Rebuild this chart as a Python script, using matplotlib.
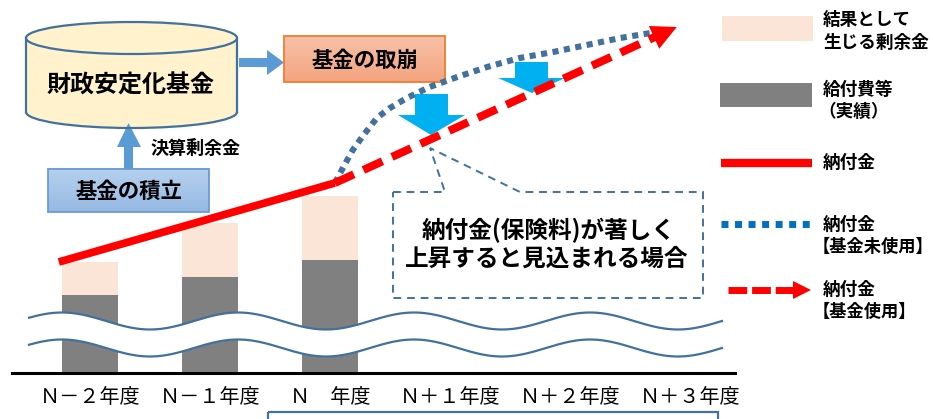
import numpy as np
import matplotlib
matplotlib.use('Agg')
import matplotlib.pyplot as plt
from matplotlib.patches import Rectangle, Ellipse, Arc, Polygon
from matplotlib.colors import to_rgb

plt.rcParams['font.family'] = ['Noto Sans CJK JP', 'DejaVu Sans']

# ---------------- data ----------------
categories = ['Ｎ－２年度', 'Ｎ－１年度', 'Ｎ　年度', 'Ｎ＋１年度', 'Ｎ＋２年度', 'Ｎ＋３年度']
benefit_costs = [78, 96, 113]          # 給付費等（実績）
surplus = [33, 54, 64]                 # 結果として生じる剰余金
contrib_x = [-0.26, 2.04]              # 納付金
contrib_y = [111, 190]
fund_used_x = [2.04, 4.89]             # 納付金【基金使用】
fund_used_y = [190, 346]
no_fund_x = [2.04, 2.13, 2.19, 2.28, 2.39, 2.50, 2.64, 2.83, 3.06, 3.31, 3.58, 3.86, 4.14, 4.42, 4.67]
no_fund_y = [190, 210, 223, 238, 255, 265, 275, 286, 296, 306, 315, 321, 328, 335, 340]

# ---------------- figure ----------------
W, H = 933, 419
fig = plt.figure(figsize=(W / 100, H / 100), dpi=100)
bg = fig.add_axes([0, 0, 1, 1])
bg.set_xlim(0, W)
bg.set_ylim(H, 0)
bg.axis('off')

EDGE = '#41719C'
JP = ['Noto Sans CJK JP', 'DejaVu Sans']


def gradient_box(x0, y0, x1, y1, top, bottom, edge, lw=1.3):
    c0 = np.array(to_rgb(top))
    c1 = np.array(to_rgb(bottom))
    t = np.linspace(0, 1, 64)[:, None]
    img = (c0 * (1 - t) + c1 * t)[:, None, :]
    bg.imshow(img, extent=(x0, x1, y1, y0), origin='upper', aspect='auto', zorder=2)
    bg.add_patch(Rectangle((x0, y0), x1 - x0, y1 - y0, fill=False, edgecolor=edge, lw=lw, zorder=3))


# cylinder 財政安定化基金
cx0, cx1, ctop, cbot, eh = 26, 237, 38, 112, 32
ccx = (cx0 + cx1) / 2
cw = cx1 - cx0
bg.add_patch(Ellipse((ccx, cbot), cw, eh, facecolor='#FFF2CC', edgecolor='none', zorder=2))
bg.add_patch(Rectangle((cx0, ctop), cw, cbot - ctop, facecolor='#FFF2CC', edgecolor='none', zorder=2))
bg.add_patch(Arc((ccx, cbot), cw, eh, theta1=0, theta2=180, color=EDGE, lw=1.6, zorder=3))
bg.plot([cx0, cx0], [ctop, cbot], color=EDGE, lw=1.6, zorder=3)
bg.plot([cx1, cx1], [ctop, cbot], color=EDGE, lw=1.6, zorder=3)
bg.add_patch(Ellipse((ccx, ctop), cw, eh, facecolor='#FFF2CC', edgecolor=EDGE, lw=1.6, zorder=3))
bg.text(131, 86, '財政安定化基金', fontsize=17.3, fontweight='bold', ha='center', va='center',
        family=JP, zorder=4)

# boxes
gradient_box(284, 36, 445, 82, '#F8C1A8', '#F4A47F', '#ED7D31')
bg.text(364.5, 60, '基金の取崩', fontsize=15.4, fontweight='bold', ha='center', va='center', family=JP, zorder=4)
gradient_box(48, 169, 209, 212, '#B7D1EE', '#95B9E3', '#6A9BD3')
bg.text(128.5, 191, '基金の積立', fontsize=15.4, fontweight='bold', ha='center', va='center', family=JP, zorder=4)
bg.text(150, 148, '決算剰余金', fontsize=13, fontweight='bold', ha='left', va='center', family=JP, zorder=4)

ARW = '#5B9BD5'
# right arrow cylinder -> 取崩
bg.add_patch(Polygon([(239, 58), (267, 58), (267, 50), (284, 62.5), (267, 75), (267, 67), (239, 67)],
                     closed=True, facecolor=ARW, edgecolor='none', zorder=2))
# up arrow 積立 -> cylinder
bg.add_patch(Polygon([(124, 169), (124, 147), (117, 147), (128.5, 123), (141, 147), (133, 147), (133, 169)],
                     closed=True, facecolor=ARW, edgecolor='none', zorder=2))

# cyan block arrows
CY = '#00B0F0'
bg.add_patch(Polygon([(415, 94), (448, 94), (448, 115), (465, 115), (431, 135), (398, 115), (415, 115)],
                     closed=True, facecolor=CY, edgecolor='none', zorder=2))
bg.add_patch(Polygon([(515, 62), (548, 62), (548, 78), (565, 78), (532, 93), (498, 78), (515, 78)],
                     closed=True, facecolor=CY, edgecolor='none', zorder=2))

# callout
bg.add_patch(Polygon([(393, 192), (445, 192), (430, 148), (520, 192), (703, 192), (703, 298), (393, 298)],
                     closed=True, facecolor='white', edgecolor=EDGE, lw=1.4, linestyle=(0, (4, 3)), zorder=1))
bg.text(549, 230, '納付金(保険料)が著しく', fontsize=17, fontweight='bold', ha='center', va='center',
        family=JP, zorder=4)
bg.text(547, 259, '上昇すると見込まれる場合', fontsize=17, fontweight='bold', ha='center', va='center',
        family=JP, zorder=4)

# bottom box (cut off)
bg.add_patch(Rectangle((268, 412), 450, 30, fill=False, edgecolor=EDGE, lw=1.6, zorder=2))

# legend
LFS = 12.7
bg.add_patch(Rectangle((722, 16), 91, 25, facecolor='#FBE5D6', edgecolor='none'))
bg.text(823, 20, '結果として', fontsize=LFS, fontweight='bold', va='center', family=JP)
bg.text(823, 43, '生じる剰余金', fontsize=LFS, fontweight='bold', va='center', family=JP)
bg.add_patch(Rectangle((720, 83), 92, 24, facecolor='#808080', edgecolor='none'))
bg.text(823, 90, '給付費等', fontsize=LFS, fontweight='bold', va='center', family=JP)
bg.text(818, 112, '（実績）', fontsize=LFS, fontweight='bold', va='center', family=JP)
bg.plot([721, 812], [163, 163], color='#FF0000', lw=6, solid_capstyle='butt')
bg.text(823, 163, '納付金', fontsize=LFS, fontweight='bold', va='center', family=JP)
bg.plot([721, 810], [224, 224], color='#0070C0', lw=5, linestyle=(0, (1, 0.95)), dash_capstyle='butt')
bg.text(823, 225, '納付金', fontsize=LFS, fontweight='bold', va='center', family=JP)
bg.text(813, 247, '【基金未使用】', fontsize=12.4, fontweight='bold', va='center', family=JP)
bg.plot([728, 793], [290, 290], color='#FF0000', lw=5, linestyle=(0, (2.7, 0.7)), dash_capstyle='butt')
bg.add_patch(Polygon([(793, 281), (811, 290), (793, 299)], closed=True, facecolor='#FF0000', edgecolor='none'))
bg.text(823, 290, '納付金', fontsize=LFS, fontweight='bold', va='center', family=JP)
bg.text(813, 312, '【基金使用】', fontsize=12.4, fontweight='bold', va='center', family=JP)

bg.set_xlim(0, W)
bg.set_ylim(H, 0)

# ---------------- chart axes ----------------
BASE = 373
ax = fig.add_axes([12 / W, (H - BASE) / H, (735 - 12) / W, BASE / H])
ax.patch.set_alpha(0)
ax.set_xlim(-0.65, 5.375)
ax.set_ylim(0, BASE)
for s in ['top', 'left', 'right']:
    ax.spines[s].set_visible(False)
ax.spines['bottom'].set_linewidth(2.2)
ax.spines['bottom'].set_color('black')
ax.set_yticks([])
ax.set_xticks(range(len(categories)))
ax.set_xticklabels(categories, fontsize=14.5, family=JP)
ax.tick_params(axis='x', length=0, pad=10)

xs = np.arange(len(benefit_costs))
ax.bar(xs, benefit_costs, width=0.46, color='#808080', zorder=2)
ax.bar(xs, surplus, bottom=benefit_costs, width=0.46, color='#FBE5D6', zorder=2)

# wavy break band (decoration)
px = np.linspace(29, 722, 500)
upper_py = 321 - 8.5 * np.cos(2 * np.pi * (px - 238) / 176)
lower_py = upper_py + 27
wx = (px - 90) / 120
ax.fill_between(wx, BASE - lower_py, BASE - upper_py, color='white', zorder=3, lw=0)
ax.plot(wx, BASE - upper_py, color=EDGE, lw=1.6, zorder=4)
ax.plot(wx, BASE - lower_py, color=EDGE, lw=1.6, zorder=4)

# lines
ax.plot(contrib_x, contrib_y, color='#FF0000', lw=5.6, solid_capstyle='butt', zorder=6)
ax.plot(no_fund_x, no_fund_y, color='#41719C', lw=4.4, linestyle=(0, (1, 0.9)),
        dash_capstyle='butt', zorder=5)

# dashed red with arrow head
vx = (fund_used_x[1] - fund_used_x[0]) * 120
vy = (fund_used_y[1] - fund_used_y[0])
L = np.hypot(vx, vy)
head_len = 24
base_x = fund_used_x[1] - head_len * vx / L / 120
base_y = fund_used_y[1] - head_len * vy / L
ax.plot([fund_used_x[0], base_x], [fund_used_y[0], base_y], color='#FF0000', lw=5.8,
        linestyle=(0, (2.6, 1.3)), dash_capstyle='butt', zorder=6)
ax.annotate('', xy=(fund_used_x[1], fund_used_y[1]), xytext=(base_x, base_y),
            arrowprops=dict(arrowstyle='-|>,head_length=1.2,head_width=0.6', color='#FF0000',
                            lw=0, mutation_scale=15, shrinkA=0, shrinkB=0), zorder=7)

fig.savefig('out.png', dpi=100)
